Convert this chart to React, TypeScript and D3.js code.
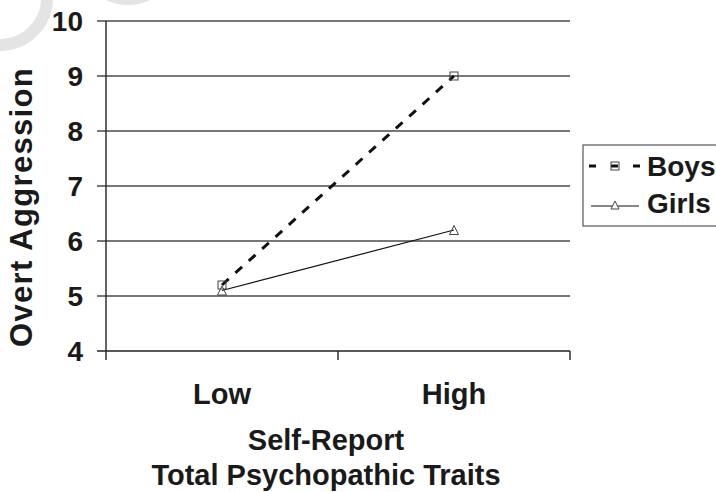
import React, { useEffect } from 'react';
import * as d3 from 'd3';

// data
const levels = ['Low', 'High'];
const boys = [5.2, 9.0];
const girls = [5.1, 6.2];
const yTicks = [4, 5, 6, 7, 8, 9, 10];
const seriesNames = ['Boys', 'Girls'];

const W = 716;
const H = 492;
const margin = { top: 21, right: 146, bottom: 141, left: 106 };
const FONT = '"Liberation Sans", Arial, Helvetica, sans-serif';

const App: React.FC = () => {
  useEffect(() => {
    document.body.style.margin = '0';
  }, []);

  const x = d3.scaleBand<string>()
    .domain(levels)
    .range([margin.left, W - margin.right])
    .paddingInner(0)
    .paddingOuter(0);

  const y = d3.scaleLinear()
    .domain([4, 10])
    .range([H - margin.bottom, margin.top]);

  const cx = (d: string) => (x(d) || 0) + x.bandwidth() / 2;
  const line = d3.line<number>()
    .x((_, i) => cx(levels[i]))
    .y(d => y(d));

  const x0 = margin.left;
  const x1 = W - margin.right;
  const yBase = y(4);
  const triangle = (px: number, py: number, s = 9) =>
    `M${px},${py - s / 2}L${px + s / 2},${py + s / 2}L${px - s / 2},${py + s / 2}Z`;

  const xBoundaries = [x0, ...levels.map(l => (x(l) || 0) + x.bandwidth())];

  const legendX = 583;
  const legendY = 145;

  return (
    <svg width={W} height={H} style={{ display: 'block', background: '#fff' }} fontFamily={FONT}>
      {/* faint watermark */}
      <circle cx={0} cy={-2} r={47} fill="none" stroke="#e4e4e4" strokeWidth={12} />
      <circle cx={128} cy={-46} r={45} fill="none" stroke="#e4e4e4" strokeWidth={12} />

      {/* gridlines */}
      {yTicks.slice(1).map(t => (
        <line key={t} x1={x0 - 9} x2={x1} y1={y(t)} y2={y(t)} stroke="#4a4a4a" strokeWidth={1.4} />
      ))}
      {/* axes */}
      <line x1={x0} x2={x0} y1={y(10)} y2={yBase} stroke="#222" strokeWidth={1.4} />
      <line x1={x0 - 9} x2={x1} y1={yBase} y2={yBase} stroke="#222" strokeWidth={1.4} />
      {xBoundaries.map((bx, i) => (
        <line key={i} x1={bx} x2={bx} y1={yBase} y2={yBase + 9} stroke="#222" strokeWidth={1.4} />
      ))}

      {/* y tick labels */}
      {yTicks.map(t => (
        <text key={t} x={83} y={y(t) + 10} textAnchor="end" fontSize={28} fontWeight="bold" fill="#1a1a1a">{t}</text>
      ))}
      {/* x tick labels */}
      {levels.map(l => (
        <text key={l} x={cx(l)} y={404} textAnchor="middle" fontSize={29} fontWeight="bold" fill="#1a1a1a">{l}</text>
      ))}

      {/* axis titles */}
      <text x={326} y={450} textAnchor="middle" fontSize={29} fontWeight="bold" fill="#1a1a1a">Self-Report</text>
      <text x={326} y={485} textAnchor="middle" fontSize={29} fontWeight="bold" fill="#1a1a1a">Total Psychopathic Traits</text>
      <text transform={`translate(32,${(68 + 346) / 2}) rotate(-90)`} textAnchor="middle" fontSize={31} fontWeight="bold" letterSpacing={1.3} fill="#1a1a1a">Overt Aggression</text>

      {/* series */}
      <path d={line(boys) || ''} fill="none" stroke="#111" strokeWidth={3} strokeDasharray="9,9" />
      <path d={line(girls) || ''} fill="none" stroke="#111" strokeWidth={1.2} />
      {boys.map((v, i) => (
        <rect key={i} x={cx(levels[i]) - 4} y={y(v) - 4} width={8} height={8} fill="none" stroke="#444" strokeWidth={1} />
      ))}
      {girls.map((v, i) => (
        <path key={i} d={triangle(cx(levels[i]), y(v))} fill="none" stroke="#444" strokeWidth={1} />
      ))}

      {/* legend */}
      <rect x={legendX} y={legendY} width={W - legendX + 10} height={81} fill="#fff" stroke="#555" strokeWidth={1.2} />
      <line x1={589} x2={641} y1={166} y2={166} stroke="#111" strokeWidth={3} strokeDasharray="7,15" />
      <rect x={611} y={162} width={8} height={8} fill="none" stroke="#444" strokeWidth={1} />
      <line x1={591} x2={639} y1={206} y2={206} stroke="#111" strokeWidth={1.2} />
      <path d={triangle(615, 205, 8)} fill="#fff" stroke="#444" strokeWidth={1} />
      {seriesNames.map((n, i) => (
        <text key={n} x={647} y={176 + i * 37} fontSize={28} fontWeight="bold" fill="#1a1a1a">{n}</text>
      ))}
    </svg>
  );
};

export default App;
